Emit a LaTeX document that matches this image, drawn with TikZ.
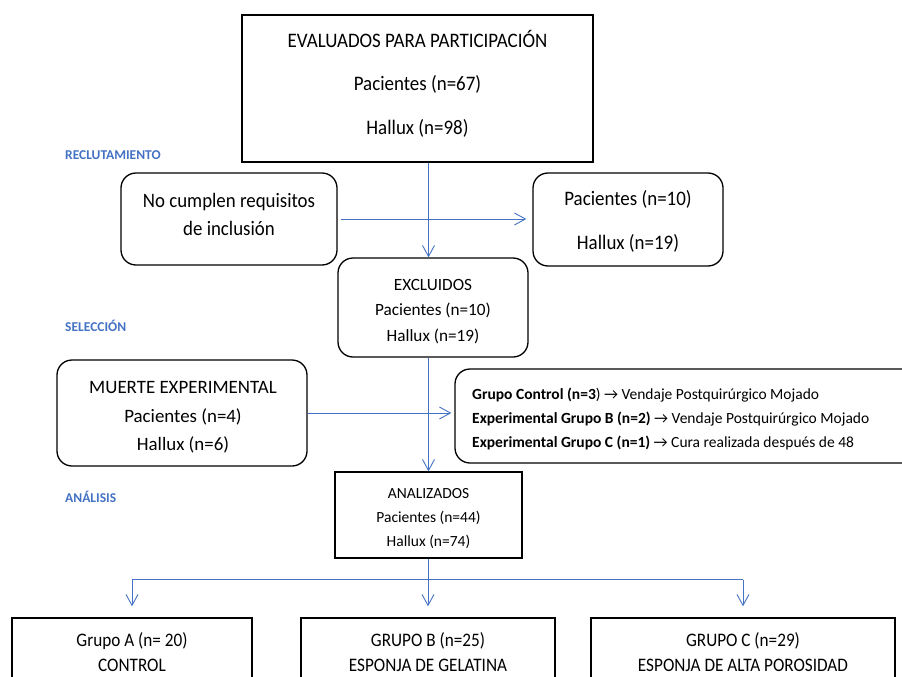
\documentclass[tikz,border=0pt]{standalone}
\usepackage{fontspec}
\setmainfont{Carlito}
\newfontfamily\tallfont[FakeStretch=0.92]{Carlito}
\newfontfamily\tallerfont[FakeStretch=0.9]{Carlito}
\usetikzlibrary{arrows.meta,calc}
\definecolor{wordblue}{HTML}{4472C4}
\begin{document}
\begin{tikzpicture}[x=1pt,y=-1pt,
  sqbox/.style={draw=black,line width=1.3pt,inner sep=0pt},
  rbox/.style={draw=black,line width=1.3pt,rounded corners=15pt,inner sep=0pt},
  txt/.style={align=center,inner sep=0pt},
  conn/.style={draw=wordblue,line width=0.9pt},
  arr/.style={conn,-{Straight Barb[length=11pt,width=12pt,line width=0.9pt]}},
  phase/.style={text=wordblue,font=\fontsize{13.5}{16}\selectfont\bfseries,anchor=west,inner sep=0pt}]
\useasboundingbox (0,0) rectangle (902,677);
\clip (0,0) rectangle (902,677);
\fill[white] (0,0) rectangle (902,677);

% boxes
\node[sqbox,minimum width=351,minimum height=147] (top) at (417.5,88.5) {};
\node[txt,font=\tallfont\fontsize{20.6}{43.5}\selectfont] (toptxt) at (417.5,83.5)
  {EVALUADOS PARA PARTICIPACIÓN\\Pacientes (n=67)\\Hallux (n=98)};

\node[rbox,minimum width=216,minimum height=92] (nocum) at (229,219) {};
\node[txt,font=\tallfont\fontsize{20.5}{28}\selectfont] (nocumtxt) at (229,214)
  {No cumplen requisitos\\de inclusión};

\node[rbox,minimum width=190,minimum height=93] (rexc) at (628,219.5) {};
\node[txt,font=\tallfont\fontsize{20.6}{44}\selectfont] (rexctxt) at (628,221.5)
  {Pacientes (n=10)\\Hallux (n=19)};

\node[rbox,minimum width=190,minimum height=99] (excl) at (433,307.5) {};
\node[txt,font=\fontsize{17.2}{25.5}\selectfont] (excltxt) at (433,311.5)
  {EXCLUIDOS\\Pacientes (n=10)\\Hallux (n=19)};

\node[rbox,minimum width=250,minimum height=106] (muerte) at (182,413) {};
\node[txt,font=\fontsize{18.9}{28.5}\selectfont] (muertetxt) at (183,417.5)
  {MUERTE EXPERIMENTAL\\Pacientes (n=4)\\Hallux (n=6)};

\node[rbox,minimum width=505,minimum height=94] (lista) at (707.5,416) {};
\node[font=\fontsize{15.5}{24}\selectfont,align=left,anchor=west,inner sep=0pt] (listatxt) at (472,418.5)
  {\textbf{Grupo Control (n=3}) → Vendaje Postquirúrgico Mojado\\
   \textbf{Experimental Grupo B (n=2)} → Vendaje Postquirúrgico Mojado\\
   \textbf{Experimental Grupo C (n=1)} → Cura realizada después de 48};

\node[sqbox,minimum width=187,minimum height=86] (anal) at (428.5,515) {};
\node[txt,font=\fontsize{15.5}{24}\selectfont] (analtxt) at (428.5,518.5)
  {ANALIZADOS\\Pacientes (n=44)\\Hallux (n=74)};

\node[sqbox,minimum width=240,minimum height=69,font=\tallerfont\fontsize{19.1}{25}\selectfont,align=center] (ga) at (132,652.5)
  {Grupo A (n= 20)\\CONTROL};
\node[sqbox,minimum width=254,minimum height=69,font=\tallerfont\fontsize{19.1}{25}\selectfont,align=center] (gb) at (428,652.5)
  {GRUPO B (n=25)\\ESPONJA DE GELATINA};
\node[sqbox,minimum width=304,minimum height=69,font=\tallerfont\fontsize{19.1}{25}\selectfont,align=center] (gc) at (743,652.5)
  {GRUPO C (n=29)\\ESPONJA DE ALTA POROSIDAD};

% phase labels
\node[phase] (l1) at (65,155) {RECLUTAMIENTO};
\node[phase] (l2) at (65,326) {SELECCIÓN};
\node[phase] (l3) at (65,497) {ANÁLISIS};

% connectors
\draw[arr] (top.south -| anal.north) -- (excl.north -| anal.north);
\draw[arr,shorten <=3pt,shorten >=6pt] (nocum.east) -- (nocum.east -| rexc.west);
\draw[arr] (excl.south -| anal.north) -- (anal.north);
\draw[arr,shorten >=3pt] (muerte.east) -- (muerte.east -| lista.west);
\draw[conn] (anal.south) -- ++(0,21) coordinate (bus);
\draw[conn] (bus -| ga.north) -- (bus -| gc.north);
\draw[arr,shorten >=11pt] (bus -| ga.north) -- (ga.north);
\draw[arr,shorten >=11pt] (bus -| gb.north) -- (gb.north);
\draw[arr,shorten >=11pt] (bus -| gc.north) -- (gc.north);
\end{tikzpicture}
\end{document}
